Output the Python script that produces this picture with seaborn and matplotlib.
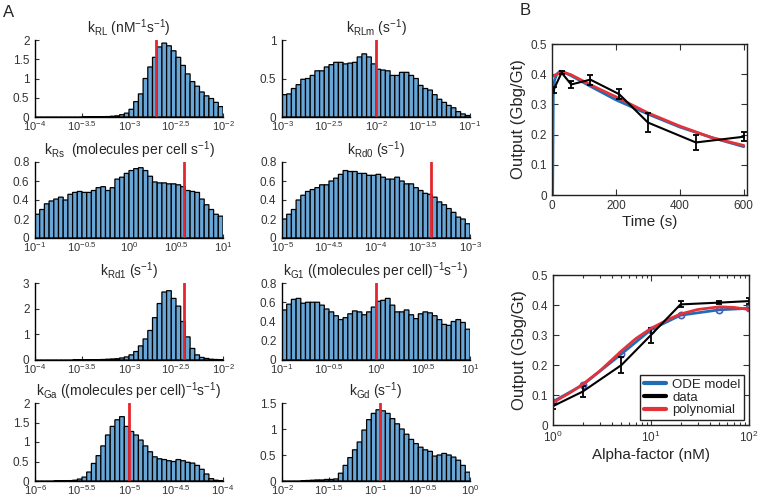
import numpy as np
import pandas as pd
import matplotlib
matplotlib.use("Agg")
import matplotlib.pyplot as plt
import seaborn as sns
from matplotlib.lines import Line2D

sns.set_style("ticks")
plt.rcParams['font.family'] = ['Liberation Sans', 'DejaVu Sans']
plt.rcParams['mathtext.default'] = 'regular'

# ================= data: panel A (posterior histograms, 40 bins in log10 units) =================
kRL_range = (-4, -2)
kRL_hist = [0, 0, 0, 0, 0, 0, 0, 0, 0, 0, 0.003, 0.004, 0.005, 0.006, 0.008, 0.012,
            0.02, 0.03, 0.06, 0.1, 0.2, 0.4, 0.6, 1.0, 1.3, 1.55, 1.82, 1.92, 1.85, 1.72,
            1.55, 1.34, 1.12, 0.92, 0.8, 0.65, 0.55, 0.48, 0.38, 0.27]
kRL_true = -2.71
kRL_yticks = [0, 0.5, 1, 1.5, 2]

kRLm_range = (-3, -1)
kRLm_hist = [0.29, 0.30, 0.37, 0.42, 0.49, 0.50, 0.54, 0.60, 0.60, 0.65,
             0.68, 0.71, 0.71, 0.69, 0.70, 0.71, 0.78, 0.82, 0.78, 0.69,
             0.62, 0.61, 0.60, 0.54, 0.54, 0.58, 0.58, 0.54, 0.50, 0.41,
             0.37, 0.35, 0.29, 0.23, 0.19, 0.15, 0.12, 0.07, 0.04, 0.02]
kRLm_true = -2.0
kRLm_yticks = [0, 0.5, 1]

kRs_range = (-1, 1)
kRs_hist = [0.25, 0.30, 0.36, 0.39, 0.41, 0.43, 0.40, 0.46, 0.48, 0.49,
            0.48, 0.48, 0.50, 0.53, 0.54, 0.50, 0.53, 0.62, 0.64, 0.68,
            0.71, 0.73, 0.74, 0.71, 0.65, 0.59, 0.58, 0.58, 0.57, 0.57,
            0.56, 0.54, 0.50, 0.49, 0.48, 0.41, 0.35, 0.30, 0.25, 0.23]
kRs_true = 0.59
kRs_yticks = [0, 0.2, 0.4, 0.6, 0.8]

kRd0_range = (-5, -3)
kRd0_hist = [0.20, 0.25, 0.30, 0.40, 0.45, 0.49, 0.51, 0.53, 0.56, 0.56,
             0.60, 0.63, 0.67, 0.71, 0.70, 0.70, 0.68, 0.68, 0.66, 0.66,
             0.67, 0.64, 0.62, 0.62, 0.64, 0.60, 0.57, 0.57, 0.53, 0.50,
             0.47, 0.46, 0.43, 0.38, 0.35, 0.31, 0.27, 0.22, 0.20, 0.15]
kRd0_true = -3.42
kRd0_yticks = [0, 0.2, 0.4, 0.6, 0.8]

kRd1_range = (-4, -2)
kRd1_hist = [0, 0, 0, 0, 0, 0, 0, 0, 0.003, 0.004,
             0.006, 0.008, 0.01, 0.015, 0.02, 0.03, 0.04, 0.05, 0.08, 0.12,
             0.2, 0.33, 0.55, 0.82, 1.15, 1.65, 2.2, 2.65, 2.7, 2.4,
             2.1, 1.5, 0.9, 0.45, 0.2, 0.1, 0.06, 0.03, 0.02, 0.01]
kRd1_true = -2.41
kRd1_yticks = [0, 1, 2, 3]

kG1_range = (-1, 1)
kG1_hist = [0.52, 0.58, 0.63, 0.64, 0.59, 0.60, 0.60, 0.60, 0.57, 0.53,
            0.50, 0.46, 0.42, 0.44, 0.48, 0.51, 0.50, 0.47, 0.50, 0.55,
            0.61, 0.62, 0.64, 0.57, 0.50, 0.50, 0.52, 0.47, 0.43, 0.48,
            0.50, 0.49, 0.46, 0.42, 0.37, 0.36, 0.40, 0.42, 0.39, 0.32]
kG1_true = 0.0
kG1_yticks = [0, 0.2, 0.4, 0.6, 0.8]

kGa_range = (-6, -4)
kGa_hist = [0, 0, 0, 0, 0.003, 0.005, 0.008, 0.01, 0.02, 0.05,
            0.1, 0.23, 0.45, 0.65, 0.9, 1.18, 1.4, 1.57, 1.65, 1.4,
            1.27, 1.18, 1.05, 0.9, 0.75, 0.62, 0.57, 0.55, 0.52, 0.5,
            0.55, 0.52, 0.48, 0.46, 0.4, 0.3, 0.18, 0.06, 0.02, 0.01]
kGa_true = -5.0
kGa_yticks = [0, 0.5, 1, 1.5, 2]

kGd_range = (-2, 0)
kGd_hist = [0, 0, 0, 0, 0.005, 0.01, 0.015, 0.02, 0.02, 0.03,
            0.03, 0.04, 0.15, 0.3, 0.45, 0.6, 0.75, 0.98, 1.18, 1.3,
            1.37, 1.35, 1.3, 1.2, 1.1, 1.0, 0.9, 0.8, 0.72, 0.65,
            0.6, 0.57, 0.48, 0.5, 0.53, 0.5, 0.46, 0.4, 0.3, 0.17]
kGd_true = -0.96
kGd_yticks = [0, 0.5, 1, 1.5]

# ================= data: panel B =================
# time course
data_t = [5, 30, 60, 120, 210, 300, 450, 600]
data_tc = [0.348, 0.405, 0.366, 0.382, 0.334, 0.24, 0.174, 0.193]
data_tc_err = [0.01, 0.005, 0.012, 0.017, 0.017, 0.03, 0.025, 0.015]
ode_t = [2, 4, 8, 15, 25, 40, 60, 120, 200, 300, 400, 500, 600]
ode_tc = [0, 0.33, 0.38, 0.40, 0.41, 0.405, 0.395, 0.36, 0.315, 0.268, 0.225, 0.19, 0.16]
poly_t = [0, 15, 35, 60, 120, 200, 300, 400, 500, 600]
poly_tc = [0.392, 0.40, 0.407, 0.398, 0.365, 0.325, 0.272, 0.228, 0.19, 0.164]

# dose response
dose = [1, 2, 5, 10, 20, 50, 100]
data_dr = [0.063, 0.111, 0.200, 0.300, 0.402, 0.408, 0.413]
data_dr_err = [0.008, 0.018, 0.028, 0.025, 0.01, 0.004, 0.01]
ode_dr = [0.078, 0.133, 0.237, 0.318, 0.366, 0.384, 0.389]
poly_dose = [1, 1.5, 2, 3, 5, 7, 10, 15, 20, 30, 50, 70, 100]
poly_dr = [0.075, 0.108, 0.135, 0.18, 0.247, 0.288, 0.322, 0.352, 0.37, 0.385, 0.394, 0.392, 0.385]

# ================= styling / layout =================
BAR_COLOR = '#67A6D6'
TRUE_RED = '#E5262D'
ODE_BLUE = '#1F6DB5'
POLY_RED = '#E2333B'
FIG_W, FIG_H = 760, 499

PANELS = [
    (r'k$_{RL}$ (nM$^{-1}$s$^{-1}$)', kRL_range, kRL_hist, kRL_true, kRL_yticks),
    (r'k$_{RLm}$ (s$^{-1}$)', kRLm_range, kRLm_hist, kRLm_true, kRLm_yticks),
    (r'k$_{Rs}$  (molecules per cell s$^{-1}$)', kRs_range, kRs_hist, kRs_true, kRs_yticks),
    (r'k$_{Rd0}$ (s$^{-1}$)', kRd0_range, kRd0_hist, kRd0_true, kRd0_yticks),
    (r'k$_{Rd1}$ (s$^{-1}$)', kRd1_range, kRd1_hist, kRd1_true, kRd1_yticks),
    (r'k$_{G1}$ ((molecules per cell)$^{-1}$s$^{-1}$)', kG1_range, kG1_hist, kG1_true, kG1_yticks),
    (r'k$_{Ga}$ ((molecules per cell)$^{-1}$s$^{-1}$)', kGa_range, kGa_hist, kGa_true, kGa_yticks),
    (r'k$_{Gd}$ (s$^{-1}$)', kGd_range, kGd_hist, kGd_true, kGd_yticks),
]
HIST_LEFT = [35, 282]
HIST_W = 188
HIST_ROWS = [(40, 117), (162, 238), (283, 360), (403, 481)]
B_TOP = (552, 44, 747, 195)
B_BOT = (553, 275, 749, 425)


def px_axes(fig, x0, y0, x1, y1):
    return fig.add_axes([x0 / FIG_W, 1 - y1 / FIG_H, (x1 - x0) / FIG_W, (y1 - y0) / FIG_H])


def draw_hist(ax, title, xr, heights, true_val, yticks):
    nb = len(heights)
    w = (xr[1] - xr[0]) / nb
    df = pd.DataFrame({'logk': [xr[0] + (i + 0.5) * w for i in range(nb)],
                       'density': heights})
    sns.histplot(data=df, x='logk', weights='density', bins=nb, binrange=xr, ax=ax,
                 color=BAR_COLOR, edgecolor='black', linewidth=0.9, alpha=1, snap=False)
    ax.axvline(true_val, color=TRUE_RED, lw=2)
    ax.set_xlim(*xr)
    ax.set_ylim(yticks[0], yticks[-1])
    xt = np.arange(xr[0], xr[1] + 0.01, 0.5)
    ax.set_xticks(xt)
    ax.set_xticklabels([f'$10^{{{v:g}}}$' for v in xt])
    ax.set_yticks(yticks)
    ax.set_yticklabels([f'{v:g}' for v in yticks])
    ax.set_xlabel('')
    ax.set_ylabel('')
    ax.set_title(title, fontsize=10, pad=5)
    sns.despine(ax=ax)
    for s in ('left', 'bottom'):
        ax.spines[s].set_linewidth(1.0)
        ax.spines[s].set_color('black')
    ax.tick_params(direction='in', length=3, width=0.8, colors='#333333')
    ax.tick_params(axis='x', pad=1.5, labelsize=8)
    ax.tick_params(axis='y', pad=4, labelsize=8.5)


def box_axes(ax):
    for s in ax.spines.values():
        s.set_visible(True)
        s.set_linewidth(1.0)
        s.set_color('#222222')
    ax.tick_params(which='both', direction='in', top=True, right=True,
                   labelsize=8.5, colors='#333333', width=0.8)
    ax.tick_params(which='major', length=4)
    ax.tick_params(which='minor', length=2)


def main():
    fig = plt.figure(figsize=(FIG_W / 100, FIG_H / 100), dpi=100)

    for i, (title, xr, h, tv, yt) in enumerate(PANELS):
        row, col = divmod(i, 2)
        y0, y1 = HIST_ROWS[row]
        x0 = HIST_LEFT[col]
        ax = px_axes(fig, x0, y0, x0 + HIST_W, y1)
        draw_hist(ax, title, xr, h, tv, yt)

    # B top: time course
    ax = px_axes(fig, *B_TOP)
    sns.lineplot(x=ode_t, y=ode_tc, ax=ax, color=ODE_BLUE, lw=2)
    sns.lineplot(x=poly_t, y=poly_tc, ax=ax, color=POLY_RED, lw=2)
    ax.errorbar(data_t, data_tc, yerr=data_tc_err, color='black', lw=1.5,
                elinewidth=1.3, capsize=2.5, capthick=1.3)
    ax.set_xlim(0, 610)
    ax.set_ylim(0, 0.5)
    ax.set_xticks([0, 200, 400, 600])
    ax.set_yticks([0, 0.1, 0.2, 0.3, 0.4, 0.5])
    ax.set_yticklabels(['0', '0.1', '0.2', '0.3', '0.4', '0.5'])
    ax.set_xlabel('Time (s)', fontsize=11, labelpad=2)
    ax.set_ylabel('Output (Gbg/Gt)', fontsize=12, labelpad=3)
    box_axes(ax)

    # B bottom: dose response
    ax = px_axes(fig, *B_BOT)
    sns.lineplot(x=dose, y=ode_dr, ax=ax, color=ODE_BLUE, lw=2, marker='o',
                 markersize=4.5, markerfacecolor='none', markeredgecolor='#4A5AB8',
                 markeredgewidth=1.2)
    ax.errorbar(dose, data_dr, yerr=data_dr_err, color='black', lw=1.5,
                elinewidth=1.3, capsize=2.5, capthick=1.3)
    sns.lineplot(x=poly_dose, y=poly_dr, ax=ax, color=POLY_RED, lw=2)
    ax.set_xscale('log')
    ax.set_xlim(1, 100)
    ax.set_ylim(0, 0.5)
    ax.set_yticks([0, 0.1, 0.2, 0.3, 0.4, 0.5])
    ax.set_yticklabels(['0', '0.1', '0.2', '0.3', '0.4', '0.5'])
    ax.set_xlabel('Alpha-factor (nM)', fontsize=11, labelpad=2)
    ax.set_ylabel('Output (Gbg/Gt)', fontsize=12, labelpad=3)
    box_axes(ax)
    handles = [Line2D([], [], color=ODE_BLUE, lw=3, label='ODE model'),
               Line2D([], [], color='black', lw=3, label='data'),
               Line2D([], [], color=POLY_RED, lw=3, label='polynomial')]
    ax.legend(handles=handles, loc='lower right', frameon=True, fancybox=False,
              edgecolor='#222222', framealpha=1, fontsize=9.5, handlelength=1.7,
              labelspacing=0.05, borderpad=0.25, handletextpad=0.45, borderaxespad=0.4)

    fig.text(3 / FIG_W, 1 - 5 / FIG_H, 'A', fontsize=12, va='top')
    fig.text(520 / FIG_W, 1 - 3 / FIG_H, 'B', fontsize=12, va='top')

    fig.savefig('out.png', dpi=100)
    plt.close(fig)


if __name__ == "__main__":
    main()
